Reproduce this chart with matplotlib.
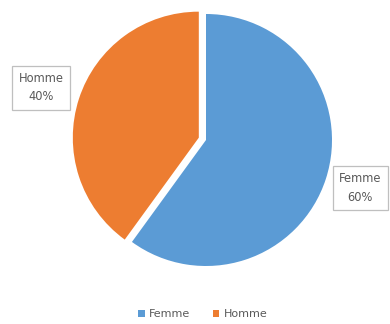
import matplotlib
matplotlib.use('Agg')
import matplotlib.pyplot as plt

labels = ['Femme', 'Homme']
values = [60, 40]
colors = ['#5B9BD5', '#ED7D31']
explode = [0, 0.06]

fig = plt.figure(figsize=(3.9, 3.24), dpi=100)
ax = fig.add_axes([0, 0, 1, 1])

wedges, _ = ax.pie(values, colors=colors, explode=explode, startangle=90,
                   counterclock=False, radius=1)

ax.set_xlim(-206 / 126, 184 / 126)
ax.set_ylim(-184 / 126, 140 / 126)
ax.set_aspect('auto')
ax.axis('off')

total = sum(values)
box = dict(boxstyle='square,pad=0.55', fc='white', ec='#BFBFBF', lw=0.9)
label_pos = [(1.225, -0.38), (-1.31, 0.415)]
for lab, v, (x, y) in zip(labels, values, label_pos):
    ax.text(x, y, '%s\n%d%%' % (lab, round(100 * v / total)), ha='center', va='center',
            fontsize=8.3, color='#595959', bbox=box, linespacing=1.55)

leg = fig.legend(wedges, labels, loc='center', bbox_to_anchor=(0.52, 0.03), ncol=2,
                 frameon=False, fontsize=8, handlelength=0.6, handleheight=0.6,
                 columnspacing=2.0, handletextpad=0.4, labelcolor='#595959')

fig.savefig('out.png', dpi=100)
